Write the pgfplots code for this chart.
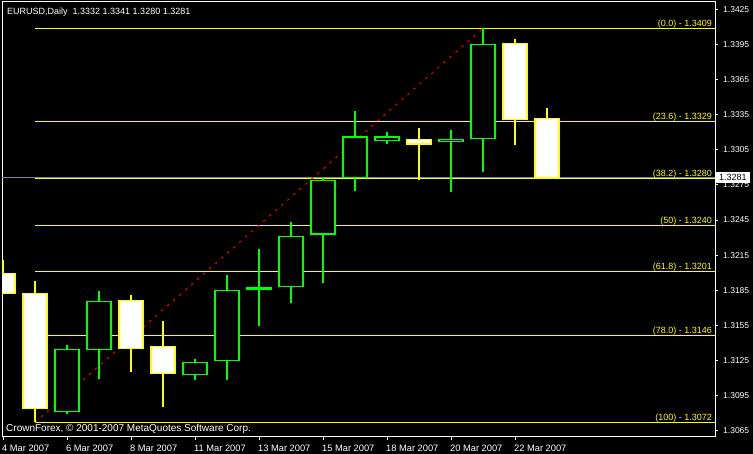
\documentclass[border=0pt]{standalone}
\usepackage{fontspec}
\setmainfont{Liberation Sans}
\usepackage{pgfplots}
\pgfplotsset{compat=1.18}
\definecolor{mtgreen}{HTML}{00FF00}
\definecolor{mtyellow}{HTML}{FFFF00}
\definecolor{bidgray}{HTML}{778899}

\pgfplotsset{
  bull/.style={draw=mtgreen, fill=black, line width=1.1pt},
  bear/.style={draw=mtyellow, fill=white, line width=1.1pt},
  bull wick/.style={mtgreen, line width=1.1pt},
  bear wick/.style={mtyellow, line width=1.1pt},
  fib/.style={mtyellow, line width=1.1pt},
}
% \candle{style}{bar}{low}{body low}{body high}{high}
\newcommand{\candle}[6]{%
  \pgfmathsetmacro\xl{#2-0.375}\pgfmathsetmacro\xr{#2+0.375}%
  \addplot[#1 wick] coordinates {(#2,#3) (#2,#6)};
  \edef\body{\noexpand\addplot[#1] coordinates {(\xl,#4) (\xr,#4) (\xr,#5) (\xl,#5)}}%
  \body -- cycle;}

\begin{document}
\begin{tikzpicture}[font=\fontsize{9}{11}\selectfont]
\fill[black] (-2pt,-17pt) rectangle (751pt,437pt);
\begin{axis}[
  at={(0,0)}, anchor=south west,
  scale only axis, width=713pt, height=435pt,
  xmin=-0.03125, xmax=22.25, ymin=1.30594, ymax=1.34315,
  axis background/.style={fill=black},
  axis line style={white, line width=1pt},
  tick style={white, line width=1pt},
  tick align=outside, major tick length=3pt,
  xtick pos=bottom, ytick pos=right, yticklabel pos=right,
  xtick={0,2,4,6,8,10,12,14,16},
  xticklabels={4 Mar 2007, 6 Mar 2007, 8 Mar 2007, 11 Mar 2007, 13 Mar 2007,
    15 Mar 2007, 18 Mar 2007, 20 Mar 2007, 22 Mar 2007},
  ytick={1.3065,1.3095,1.3125,1.3155,1.3185,1.3215,1.3245,1.3275,1.3305,1.3335,1.3365,1.3395,1.3425},
  yticklabels={1.3065,1.3095,1.3125,1.3155,1.3185,1.3215,1.3245,1.3275,1.3305,1.3335,1.3365,1.3395,1.3425},
  xticklabel style={anchor=north west, inner sep=0pt, xshift=-1pt, yshift=-5pt, text=white,
    font=\fontsize{9.3}{11}\selectfont},
  yticklabel style={anchor=west, inner sep=0pt, xshift=5pt, text=white,
    font=\fontsize{8.5}{10}\selectfont},
  clip=true,
]
% bid line
\addplot[bidgray, line width=1pt] coordinates {(-0.03125,1.3281) (22.25,1.3281)};
% fibonacci levels, from the 5 Mar low to the 21 Mar high
\addplot[fib] coordinates {(1,1.3409) (22.25,1.3409)};
\addplot[fib] coordinates {(1,1.33295) (22.25,1.33295)};
\addplot[fib] coordinates {(1,1.32803) (22.25,1.32803)};
\addplot[fib] coordinates {(1,1.32405) (22.25,1.32405)};
\addplot[fib] coordinates {(1,1.32007) (22.25,1.32007)};
\addplot[fib] coordinates {(1,1.31461) (22.25,1.31461)};
\addplot[fib] coordinates {(1,1.3072) (22.25,1.3072)};
\addplot[red, line width=1pt, dash pattern=on 2.5pt off 5.5pt] coordinates {(1,1.3072) (15,1.3409)};

% candles: OHLC per day
\candle{bear}{0}{1.3182}{1.3182}{1.3199}{1.3211}   % 4 Mar
\candle{bear}{1}{1.3072}{1.3084}{1.3182}{1.3193}   % 5 Mar
\candle{bull}{2}{1.3079}{1.3081}{1.3134}{1.3138}   % 6 Mar
\candle{bull}{3}{1.3109}{1.3134}{1.3175}{1.3184}   % 7 Mar
\candle{bear}{4}{1.3115}{1.3135}{1.3176}{1.3181}   % 8 Mar
\candle{bear}{5}{1.3085}{1.3114}{1.3137}{1.3159}   % 9 Mar
\candle{bull}{6}{1.3108}{1.3113}{1.3123}{1.3126}   % 11 Mar
\candle{bull}{7}{1.3108}{1.3125}{1.3185}{1.3198}   % 12 Mar
\candle{bull}{8}{1.3154}{1.3186}{1.3187}{1.3220}   % 13 Mar
\candle{bull}{9}{1.3174}{1.3188}{1.3231}{1.3243}   % 14 Mar
\candle{bull}{10}{1.3191}{1.3233}{1.3279}{1.3281}  % 15 Mar
\candle{bull}{11}{1.3270}{1.3281}{1.3316}{1.3338}  % 16 Mar
\candle{bull}{12}{1.3310}{1.3313}{1.3316}{1.3320}  % 18 Mar
\candle{bear}{13}{1.3279}{1.3310}{1.3314}{1.3324}  % 19 Mar
\candle{bull}{14}{1.3269}{1.3312}{1.3314}{1.3322}  % 20 Mar
\candle{bull}{15}{1.3286}{1.3315}{1.3395}{1.3409}  % 21 Mar
\candle{bear}{16}{1.3309}{1.3331}{1.3396}{1.3400}  % 22 Mar
\candle{bear}{17}{1.3280}{1.3281}{1.3332}{1.3341}  % 23 Mar

\begin{scope}[every node/.style={anchor=base east, inner sep=0pt, text=mtyellow, xshift=-3pt, yshift=2pt}]
\node at (axis cs:22.25,1.3409) {(0.0) - 1.3409};
\node at (axis cs:22.25,1.33295) {(23.6) - 1.3329};
\node at (axis cs:22.25,1.32803) {(38.2) - 1.3280};
\node at (axis cs:22.25,1.32405) {(50) - 1.3240};
\node at (axis cs:22.25,1.32007) {(61.8) - 1.3201};
\node at (axis cs:22.25,1.31461) {(78.0) - 1.3146};
\node at (axis cs:22.25,1.3072) {(100) - 1.3072};
\end{scope}
\node[anchor=base west, inner sep=0pt, text=white, xshift=5pt, yshift=-13pt]
  at (rel axis cs:0,1) {EURUSD,Daily\ \ 1.3332 1.3341 1.3280 1.3281};
\node[anchor=base west, inner sep=0pt, text=white, xshift=4pt, yshift=5pt,
  font=\fontsize{10}{12}\selectfont]
  at (rel axis cs:0,0) {CrownForex, © 2001-2007 MetaQuotes Software Corp.};
\end{axis}
\node[anchor=west, fill=white, text=black, inner xsep=3pt, inner ysep=0pt,
  minimum height=11pt] at (714pt,259.1pt) {1.3281};
\pgfresetboundingbox
\useasboundingbox (-2pt,-17pt) rectangle (751pt,437pt);
\end{tikzpicture}
\end{document}
